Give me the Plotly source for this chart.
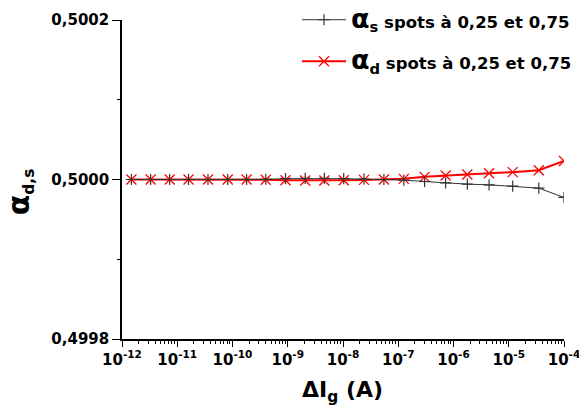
import plotly.graph_objects as go

# Data
delta_ig = [1.48e-12, 3.3e-12, 7.3e-12, 1.6e-11, 3.6e-11, 8.2e-11, 1.8e-10, 4.0e-10,
            9.1e-10, 2.07e-9, 4.6e-9, 1.03e-8, 2.4e-8, 5.5e-8, 1.26e-7, 3.0e-7,
            7.2e-7, 1.78e-6, 4.4e-6, 1.18e-5, 3.5e-5, 1.0e-4]
alpha_s = [0.5, 0.5, 0.5, 0.5, 0.5, 0.5, 0.5, 0.5000003, 0.500001, 0.5000013,
           0.5000013, 0.500001, 0.5000005, 0.5, 0.4999992, 0.4999975, 0.4999958,
           0.4999942, 0.4999933, 0.4999917, 0.4999892, 0.4999775]
alpha_d = [0.5, 0.5, 0.5, 0.5, 0.5, 0.5, 0.5, 0.4999997, 0.499999, 0.4999987,
           0.4999987, 0.499999, 0.4999995, 0.5, 0.5000008, 0.5000033, 0.500005,
           0.5000063, 0.5000079, 0.5000092, 0.5000117, 0.5000233]

x_exponents = [-12, -11, -10, -9, -8, -7, -6, -5, -4]
x_ticktext = ["10<sup>%d</sup>" % e for e in x_exponents]
y_tickvals = [0.4998, 0.5000, 0.5002]
y_ticktext = ["0,4998", "0,5000", "0,5002"]

name_s = ("<span style='font-size:27px'>α</span><sub>s</sub>"
          "<span style='font-size:16.5px'> spots à 0,25 et 0,75</span>")
name_d = ("<span style='font-size:27px'>α</span><sub>d</sub>"
          "<span style='font-size:16.5px'> spots à 0,25 et 0,75</span>")

FONT = "DejaVu Sans"

fig = go.Figure()
fig.add_trace(go.Scatter(
    x=delta_ig, y=alpha_d, mode="lines+markers", name=name_d,
    line=dict(color="#ff0000", width=2),
    marker=dict(symbol="x-thin-open", size=10, line=dict(color="#ff0000", width=1.3)),
    legend="legend2",
))
fig.add_trace(go.Scatter(
    x=delta_ig, y=alpha_s, mode="lines+markers", name=name_s,
    line=dict(color="#333333", width=1),
    marker=dict(symbol="cross-thin-open", size=8, line=dict(color="#000000", width=1.2)),
    legend="legend",
))

minor_x = [m * 10.0 ** k for k in range(-12, -4) for m in range(2, 10)]

legend_common = dict(xanchor="left", yanchor="top", bgcolor="rgba(0,0,0,0)",
                     font=dict(family=FONT, size=21, color="black", weight="bold"),
                     itemwidth=44, borderwidth=0)

fig.update_layout(
    width=579, height=418,
    margin=dict(l=122, r=15, t=20, b=79, autoexpand=False),
    paper_bgcolor="white", plot_bgcolor="white",
    font=dict(family=FONT, color="black", weight="bold"),
    showlegend=True,
    xaxis=dict(
        type="log", range=[-12, -4],
        tickmode="array", tickvals=[10.0 ** e for e in x_exponents], ticktext=x_ticktext,
        ticks="outside", ticklen=6, tickwidth=1, tickcolor="black",
        showline=True, linecolor="black", linewidth=1.5,
        showgrid=False, zeroline=False, ticklabeloverflow="allow",
        tickfont=dict(family=FONT, size=15, color="black", weight="bold"),
        minor=dict(tickmode="array", tickvals=minor_x, ticks="outside", ticklen=3,
                   tickwidth=1, tickcolor="black", showgrid=False),
    ),
    yaxis=dict(
        range=[0.4998, 0.5002],
        tickmode="array", tickvals=y_tickvals, ticktext=y_ticktext,
        ticks="outside", ticklen=8, tickwidth=1, tickcolor="black",
        showline=True, linecolor="black", linewidth=1.5,
        showgrid=False, zeroline=False,
        tickfont=dict(family=FONT, size=15, color="black", weight="bold"),
        minor=dict(tickmode="array", tickvals=[0.4999, 0.5001], ticks="outside", ticklen=3,
                   tickwidth=1, tickcolor="black", showgrid=False),
    ),
    legend=dict(x=0.396, y=1.064, **legend_common),
    legend2=dict(x=0.396, y=0.934, **legend_common),
    annotations=[
        dict(text="ΔI<sub>g</sub> (A)", xref="paper", yref="paper", x=0.498, y=-0.166,
             xanchor="center", yanchor="middle", showarrow=False,
             font=dict(family=FONT, size=22, color="black", weight="bold")),
        dict(text="<span style='font-size:30px'>α</span><sub>d,s</sub>", xref="paper", yref="paper",
             x=-0.23, y=0.461, xanchor="center", yanchor="middle", textangle=-90,
             showarrow=False, font=dict(family=FONT, size=22, color="black", weight="bold")),
    ],
)

fig.write_html("out.html", config={"displayModeBar": False},
               post_script="document.body.style.margin='0';")
